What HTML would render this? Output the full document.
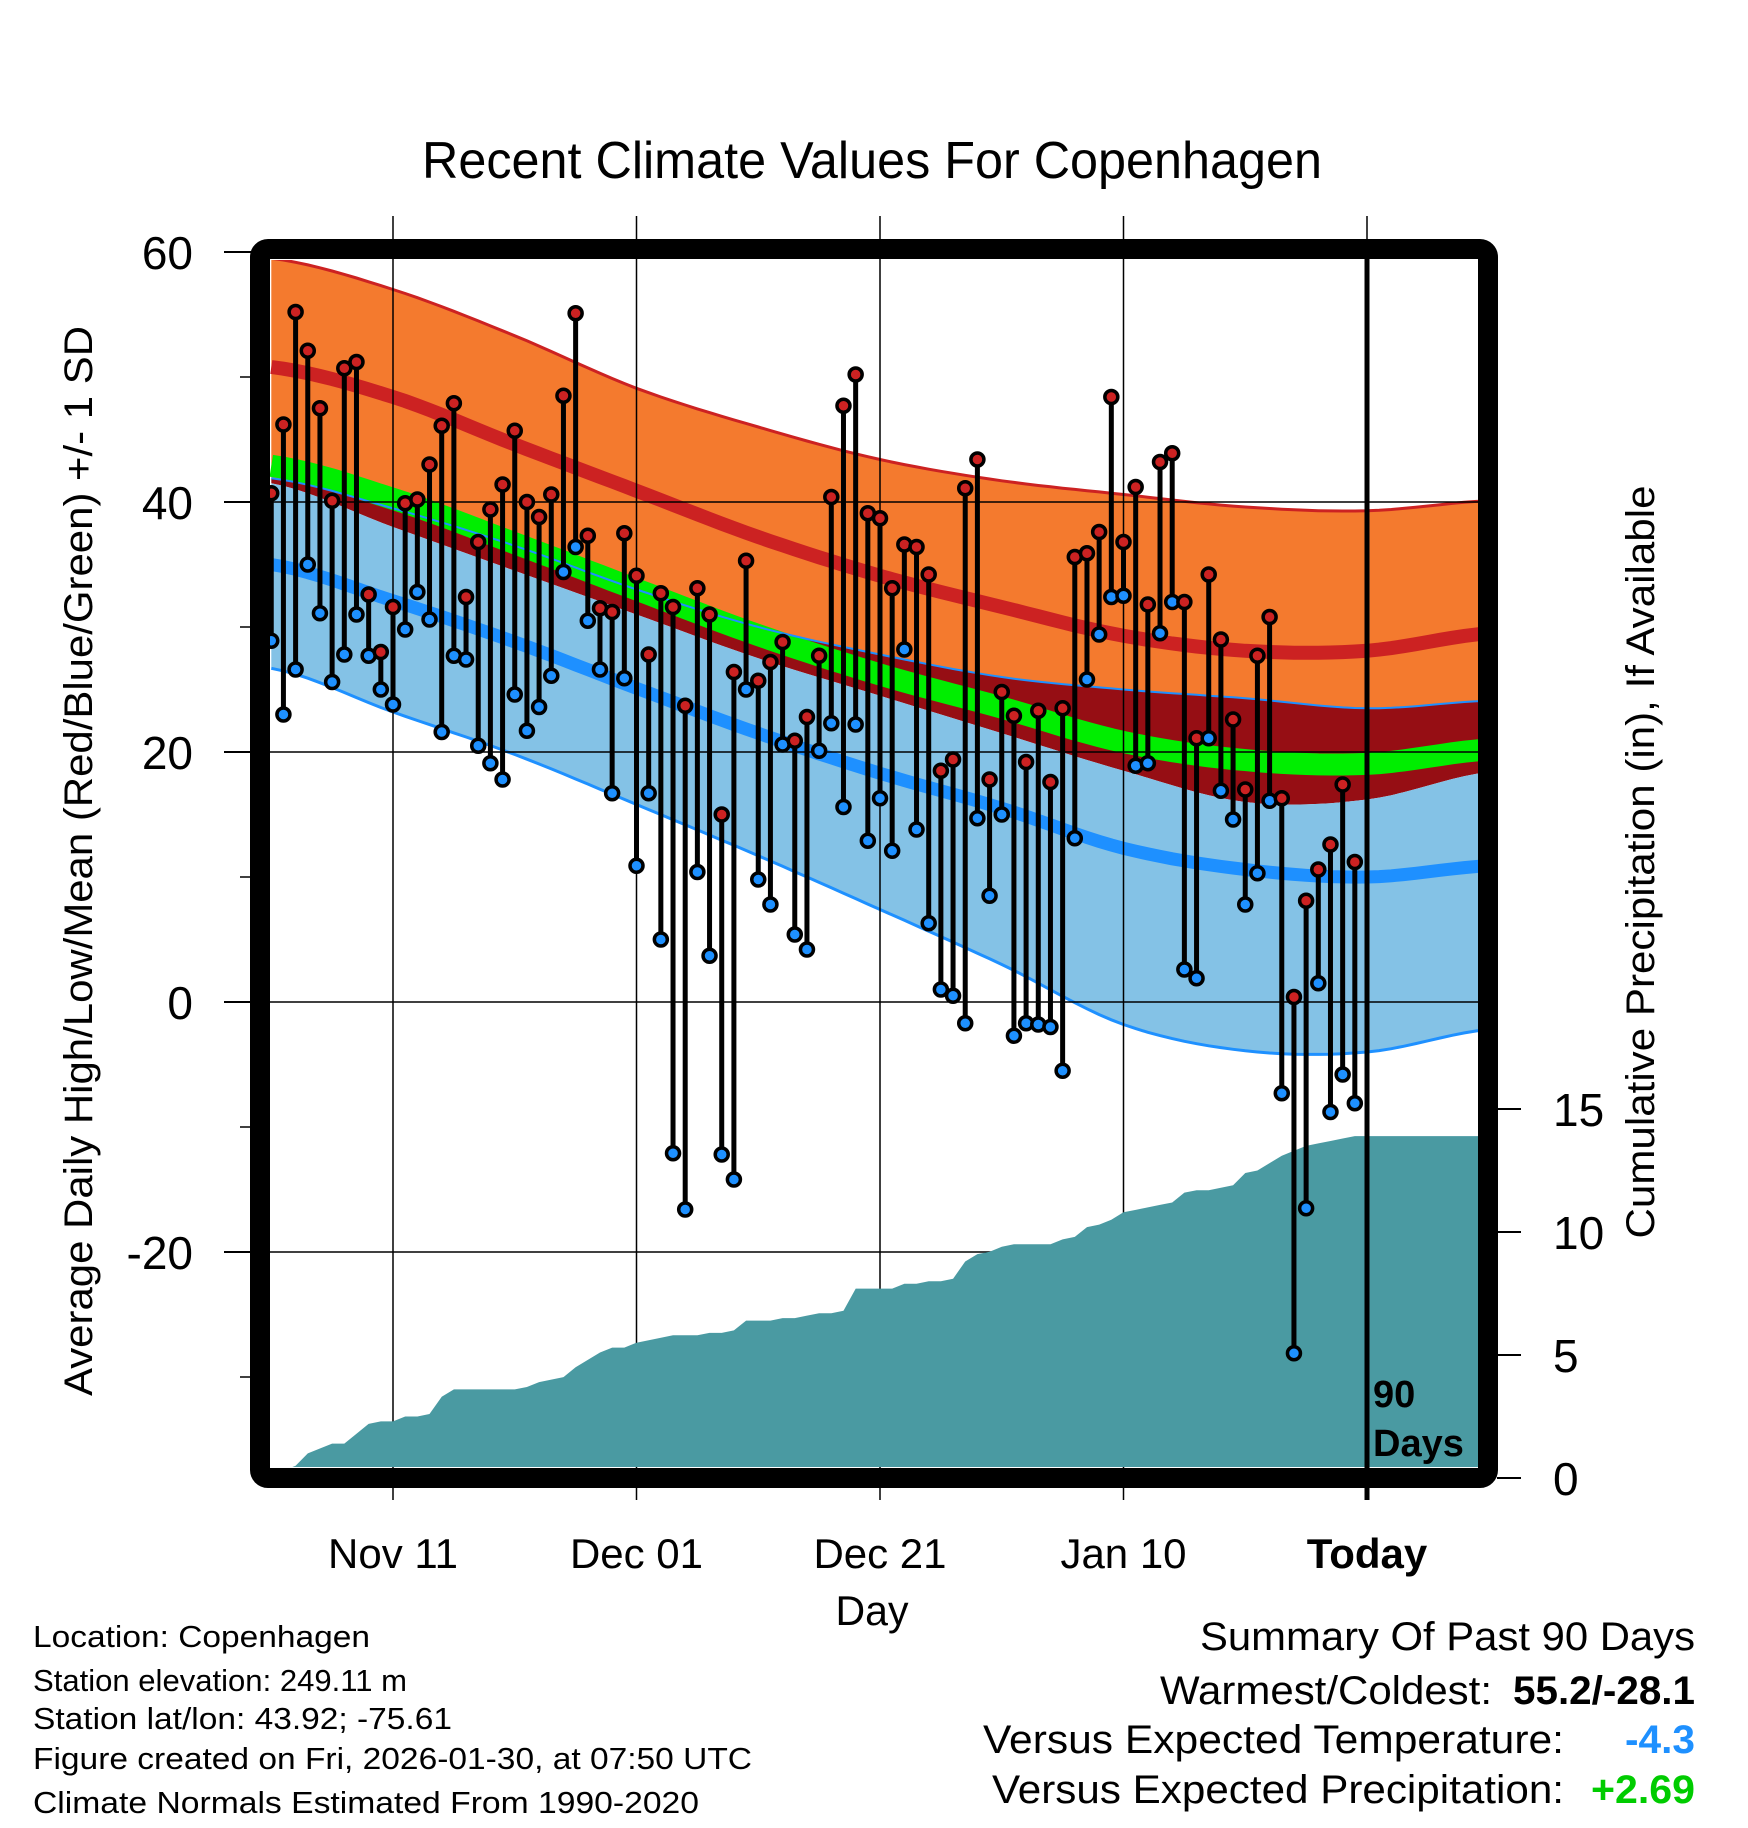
<!DOCTYPE html>
<html><head><meta charset="utf-8"><style>
html,body{margin:0;padding:0;background:#fff;}
svg{display:block;font-family:"Liberation Sans",sans-serif;}
</style></head><body>
<svg id="chart" width="1748" height="1828" viewBox="0 0 1748 1828" xmlns="http://www.w3.org/2000/svg">
<defs><clipPath id="plotclip"><rect x="270" y="260" width="1208" height="1207"/></clipPath></defs>
<text x="872" y="178" text-anchor="middle" font-size="52" textLength="900" lengthAdjust="spacingAndGlyphs">Recent Climate Values For Copenhagen</text>
<g id="bands" clip-path="url(#plotclip)"></g>
<g id="grid"></g>
<g id="precip" clip-path="url(#plotclip)"></g>
<g id="marks"></g>
<line x1="1367" y1="250" x2="1367" y2="1500" stroke="#000" stroke-width="5"/>
<rect x="260" y="249" width="1228" height="1229" rx="8" fill="none" stroke="#000" stroke-width="20"/>
<text x="1373" y="1407" font-size="38" font-weight="bold">90</text>
<text x="1373" y="1456" font-size="38" font-weight="bold">Days</text>
<g id="axes"></g>
<text transform="translate(92,861) rotate(-90)" text-anchor="middle" font-size="40" textLength="1070" lengthAdjust="spacingAndGlyphs">Average Daily High/Low/Mean (Red/Blue/Green) +/- 1 SD</text>
<text transform="translate(1654,862) rotate(-90)" text-anchor="middle" font-size="40" textLength="753" lengthAdjust="spacingAndGlyphs">Cumulative Precipitation (in), If Available</text>
<text x="872" y="1625" text-anchor="middle" font-size="42" textLength="73" lengthAdjust="spacingAndGlyphs">Day</text>
<g font-size="31">
<text x="33" y="1647" textLength="337" lengthAdjust="spacingAndGlyphs">Location: Copenhagen</text>
<text x="33" y="1691" textLength="374" lengthAdjust="spacingAndGlyphs">Station elevation: 249.11 m</text>
<text x="33" y="1729" textLength="419" lengthAdjust="spacingAndGlyphs">Station lat/lon: 43.92; -75.61</text>
<text x="33" y="1769" textLength="719" lengthAdjust="spacingAndGlyphs">Figure created on Fri, 2026-01-30, at 07:50 UTC</text>
<text x="33" y="1813" textLength="666" lengthAdjust="spacingAndGlyphs">Climate Normals Estimated From 1990-2020</text>
</g>
<g font-size="40" transform="translate(6,0)">
<text x="1194" y="1650" textLength="495" lengthAdjust="spacingAndGlyphs">Summary Of Past 90 Days</text>
<text x="1154" y="1704" textLength="332" lengthAdjust="spacingAndGlyphs">Warmest/Coldest:</text>
<text x="1507" y="1704" font-weight="bold" textLength="182" lengthAdjust="spacingAndGlyphs">55.2/-28.1</text>
<text x="977" y="1753" textLength="581" lengthAdjust="spacingAndGlyphs">Versus Expected Temperature:</text>
<text x="1619" y="1753" font-weight="bold" fill="#1E90FF" textLength="70" lengthAdjust="spacingAndGlyphs">-4.3</text>
<text x="986" y="1803" textLength="572" lengthAdjust="spacingAndGlyphs">Versus Expected Precipitation:</text>
<text x="1585" y="1803" font-weight="bold" fill="#00CC00" textLength="104" lengthAdjust="spacingAndGlyphs">+2.69</text>
</g>
</svg>
<script>
// ---- data ----
const highs = [40.7,46.2,55.2,52.1,47.5,40.1,50.7,51.2,32.6,28.0,
31.6,39.9,40.2,43.0,46.1,47.9,32.4,36.8,39.4,41.4,
45.7,40.0,38.8,40.6,48.5,55.1,37.3,31.5,31.2,37.5,
34.1,27.8,32.7,31.6,23.7,33.1,31.0,15.0,26.4,35.3,
25.7,27.2,28.8,20.9,22.8,27.7,40.4,47.7,50.2,39.1,
38.7,33.1,36.6,36.4,34.2,18.5,19.4,41.1,43.4,17.8,
24.8,22.9,19.2,23.3,17.6,23.5,35.6,35.9,37.6,48.4,
36.8,41.2,31.8,43.2,43.9,32.0,21.1,34.2,29.0,22.6,
17.0,27.7,30.8,16.3,0.4,8.1,10.6,12.6,17.4,11.2];
const lows = [28.9,23.0,26.6,35.0,31.1,25.6,27.8,31.0,27.7,25.0,
23.8,29.8,32.8,30.6,21.6,27.7,27.4,20.5,19.1,17.8,
24.6,21.7,23.6,26.1,34.4,36.4,30.5,26.6,16.7,25.9,
10.9,16.7,5.0,-12.1,-16.6,10.4,3.7,-12.2,-14.2,25.0,
9.8,7.8,20.6,5.4,4.2,20.1,22.3,15.6,22.2,12.9,
16.3,12.1,28.2,13.8,6.3,1.0,0.5,-1.7,14.7,8.5,
15.0,-2.7,-1.7,-1.8,-2.0,-5.5,13.1,25.8,29.4,32.4,
32.5,18.9,19.1,29.5,32.0,2.6,1.9,21.1,16.9,14.6,
7.8,10.3,16.1,-7.3,-28.1,-16.5,1.5,-8.8,-5.8,-8.1];
const precipCum = [0,0.3,0.5,1.0,1.2,1.4,1.4,1.8,2.2,2.3,
2.3,2.5,2.5,2.6,3.3,3.6,3.6,3.6,3.6,3.6,
3.6,3.7,3.9,4.0,4.1,4.5,4.8,5.1,5.3,5.3,
5.5,5.6,5.7,5.8,5.8,5.8,5.9,5.9,6.0,6.4,
6.4,6.4,6.5,6.5,6.6,6.7,6.7,6.8,7.7,7.7,
7.7,7.7,7.9,7.9,8.0,8.0,8.1,8.8,9.1,9.2,
9.4,9.5,9.5,9.5,9.5,9.7,9.8,10.2,10.3,10.5,
10.8,10.9,11.0,11.1,11.2,11.6,11.7,11.7,11.8,11.9,
12.4,12.5,12.8,13.1,13.3,13.5,13.6,13.7,13.8,13.9];
const normDays = [0,10,20,30,40,50,60,70,80,90,100];
const highPlusSD = [59.5,57.0,53.3,49.1,46.0,43.4,41.7,40.6,39.6,39.3,40.1];
const meanHigh   = [50.8,48.4,44.6,40.9,37.2,34.1,31.6,29.3,28.1,28.1,29.5];
const highMinusSD= [41.9,39.5,36.5,33.0,30.0,27.8,26.0,25.0,24.3,23.5,24.1];
const lowPlusSD  = [41.5,38.0,34.5,31.0,27.5,24.5,21.5,18.5,16.0,16.2,18.4];
const meanLow    = [35.0,32.1,28.8,25.1,21.5,18.3,15.5,12.3,10.6,10.0,10.9];
const lowMinusSD = [26.7,23.2,19.8,15.8,11.7,7.4,3.0,-1.8,-3.9,-4.0,-2.2];
const yTicks = [60,40,20,0,-20];
const yMinor = [50,30,10,-10,-30];
const pTicks = [0,5,10,15];
const xTickDays = [10,30,50,70,90];
const xTickLabels = ["Nov 11","Dec 01","Dec 21","Jan 10","Today"];

// ---- scales ----
const NS="http://www.w3.org/2000/svg";
function xs(d){return 271.25 + d*12.175;}
function ys(v){return 1002 - v*12.5;}
function ps(v){return 1478 - v*24.6;}
function mk(tag, attrs, parent){const e=document.createElementNS(NS,tag);for(const k in attrs)e.setAttribute(k,attrs[k]);parent.appendChild(e);return e;}
function smooth(arr){
  const pts=[];
  for(let i=0;i<normDays.length-1;i++){
    const p0=arr[Math.max(i-1,0)],p1=arr[i],p2=arr[i+1],p3=arr[Math.min(i+2,arr.length-1)];
    const d0=normDays[i],d1=normDays[i+1];
    for(let s=0;s<10;s++){const t=s/10,t2=t*t,t3=t2*t;
      const v=0.5*((2*p1)+(-p0+p2)*t+(2*p0-5*p1+4*p2-p3)*t2+(-p0+3*p1-3*p2+p3)*t3);
      pts.push([d0+(d1-d0)*t,v]);}
  }
  pts.push([normDays[normDays.length-1],arr[arr.length-1]]);
  return pts;
}
function linePath(pts){return pts.map((p,i)=>(i?'L':'M')+xs(p[0]).toFixed(1)+','+ys(p[1]).toFixed(1)).join('');}
function bandPath(a,b){const pa=smooth(a),pb=smooth(b).reverse();return linePath(pa)+pb.map(p=>'L'+xs(p[0]).toFixed(1)+','+ys(p[1]).toFixed(1)).join('')+'Z';}

const bands=document.getElementById('bands');
let e;
e=mk('path',{d:bandPath(highPlusSD,highMinusSD),fill:'#F47A2E'},bands);


e=mk('path',{d:bandPath(highMinusSD,lowPlusSD),fill:'#960E14'},bands);


e=mk('path',{d:bandPath(lowPlusSD,lowMinusSD),fill:'#84C2E6'},bands);


const meanAvg=meanHigh.map((v,i)=>(v+meanLow[i])/2);
e=mk('path',{d:linePath(smooth(meanAvg)),fill:'none',stroke:'#00EE00','stroke-width':22},bands);


e=mk('path',{d:linePath(smooth(highMinusSD)),fill:'none',stroke:'#1E90FF','stroke-width':2},bands);


e=mk('path',{d:linePath(smooth(highPlusSD)),fill:'none',stroke:'#CC2222','stroke-width':3},bands);


e=mk('path',{d:linePath(smooth(meanHigh)),fill:'none',stroke:'#CC2222','stroke-width':14},bands);


e=mk('path',{d:linePath(smooth(meanLow)),fill:'none',stroke:'#1E90FF','stroke-width':13},bands);


e=mk('path',{d:linePath(smooth(lowMinusSD)),fill:'none',stroke:'#1E90FF','stroke-width':3},bands);



// grid
const grid=document.getElementById('grid');
yTicks.forEach(v=>{if(v===60)return;
  e=mk('line',{x1:270,x2:1478,y1:ys(v),y2:ys(v),stroke:'#000','stroke-width':1.5},grid);
  
  
});
xTickDays.forEach(d=>{
  e=mk('line',{x1:xs(d),x2:xs(d),y1:216,y2:1500,stroke:'#000','stroke-width':1.5},grid);
  
  
});

// precip
const pg=document.getElementById('precip');
let pd='M'+xs(0)+','+ps(0);
precipCum.forEach((v,i)=>{pd+='L'+xs(i).toFixed(1)+','+ps(v).toFixed(1);});
pd+='L1490,'+ps(precipCum[precipCum.length-1]).toFixed(1)+'L1490,1480L'+xs(0)+',1480Z';
e=mk('path',{d:pd,fill:'#4A9AA2'},pg);



// marks
const mg=document.getElementById('marks');
highs.forEach((h,i)=>{
  const l=lows[i];
  e=mk('line',{x1:xs(i),x2:xs(i),y1:ys(h),y2:ys(l),stroke:'#000','stroke-width':5},mg);
  
  
});
highs.forEach((h,i)=>{
  e=mk('circle',{cx:xs(i),cy:ys(lows[i]),r:6.5,fill:'#1E90FF',stroke:'#000','stroke-width':3.5},mg);
  
  
  e=mk('circle',{cx:xs(i),cy:ys(h),r:6.5,fill:'#CC2222',stroke:'#000','stroke-width':3.5},mg);
  
  
});

// axes
const ax=document.getElementById('axes');
yTicks.forEach(v=>{
  e=mk('line',{x1:224,x2:252,y1:ys(v),y2:ys(v),stroke:'#000','stroke-width':2},ax);
  
  
  e=mk('text',{x:193,y:ys(v)+17,'text-anchor':'end','font-size':46},ax);
  e.textContent=String(v);
  
  
});
yMinor.forEach(v=>{
  e=mk('line',{x1:240,x2:252,y1:ys(v),y2:ys(v),stroke:'#000','stroke-width':1.5},ax);
  
  
});
pTicks.forEach(v=>{
  e=mk('line',{x1:1497,x2:1521,y1:ps(v),y2:ps(v),stroke:'#000','stroke-width':2},ax);
  
  
  e=mk('text',{x:1553,y:ps(v)+17,'font-size':46},ax);
  e.textContent=String(v);
  
  
});
xTickDays.forEach((d,i)=>{
  e=mk('text',{x:xs(d),y:1568,'text-anchor':'middle','font-size':42,'font-weight':i===4?'bold':'normal'},ax);
  e.textContent=xTickLabels[i];
  
  
});
</script>
</body></html>
